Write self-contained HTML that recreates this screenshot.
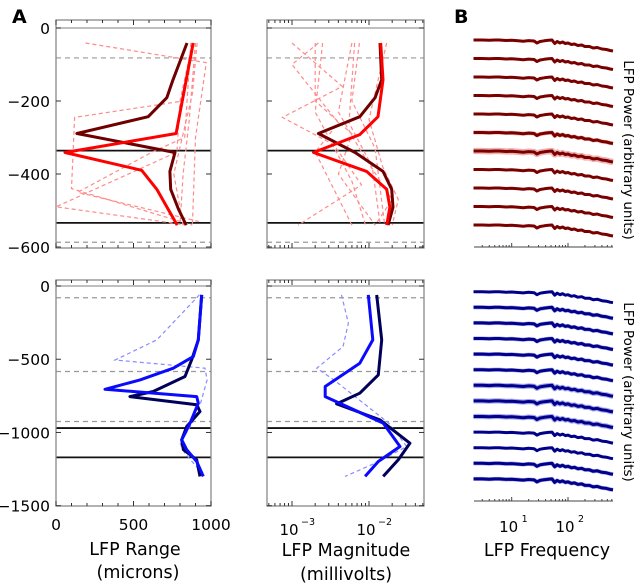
<!DOCTYPE html>
<html><head><meta charset="utf-8"><style>
html,body{margin:0;padding:0;background:#fff;}
svg{display:block;font-family:"DejaVu Sans","Liberation Sans",sans-serif;}
</style></head><body>
<svg id="fig" width="640" height="584" viewBox="0 0 640 584" xmlns="http://www.w3.org/2000/svg">
<text x="12" y="23" font-size="19" font-weight="bold">A</text>
<text x="454" y="23" font-size="19" font-weight="bold">B</text>
<text x="135" y="555" font-size="17.5" text-anchor="middle">LFP Range</text>
<text x="138" y="578" font-size="17.5" text-anchor="middle">(microns)</text>
<text x="346" y="556" font-size="17.5" text-anchor="middle">LFP Magnitude</text>
<text x="346" y="580" font-size="17.5" text-anchor="middle">(millivolts)</text>
<text x="547" y="556" font-size="17.5" text-anchor="middle">LFP Frequency</text>
<text transform="translate(624,150) rotate(90)" font-size="13.5" text-anchor="middle">LFP Power (arbitrary units)</text>
<text transform="translate(624,392) rotate(90)" font-size="13.5" text-anchor="middle">LFP Power (arbitrary units)</text>
</svg>
<script>
// ---------- data ----------
const topDepthTicks = [0, -200, -400, -600];
const botDepthTicks = [0, -500, -1000, -1500];
const rangeTicks = [0, 500, 1000];
const topLinesSolid = [-336, -534];
const topLinesDashed = [-82, -587];
const botLinesSolid = [-970, -1170];
const botLinesDashed = [-80, -584, -925];

const topRangeDark = [[845,-41],[755,-142],[715,-191],[595,-243],[135,-289],[768,-341],[735,-393],[740,-442],[790,-496],[840,-540]];
const topRangeMean = [[885,-41],[775,-289],[58,-341],[553,-390],[650,-442],[782,-540]];
const topRangeDashed = [
  [[190,-41],[970,-95],[900,-300],[880,-540]],
  [[880,-41],[820,-200],[120,-245],[100,-440],[880,-540]],
  [[880,-41],[800,-200],[780,-340],[0,-490],[850,-540]],
  [[870,-41],[830,-300],[620,-340],[140,-450],[920,-530]],
  [[900,-41],[860,-250],[820,-400],[800,-540]],
  [[910,-41],[880,-180],[760,-400],[820,-540]]
];
const topMagDark = [[0.0139,-41],[0.0146,-142],[0.0120,-191],[0.0076,-243],[0.0022,-289],[0.0066,-341],[0.0152,-393],[0.0197,-442],[0.0205,-491],[0.0177,-540]];
const topMagMean = [[0.0142,-41],[0.0152,-142],[0.0131,-243],[0.0076,-292],[0.0019,-341],[0.0093,-393],[0.0170,-442],[0.0187,-491],[0.0170,-540]];
const topMagDashed = [
  [[0.0010,-41],[0.0045,-160],[0.00075,-245],[0.0035,-320],[0.008,-430],[0.0012,-540]],
  [[0.0020,-41],[0.0020,-200],[0.006,-290],[0.004,-400],[0.012,-540]],
  [[0.0022,-41],[0.0010,-100],[0.0040,-260],[0.0020,-340],[0.006,-540]],
  [[0.0025,-41],[0.0020,-230],[0.006,-420],[0.009,-540]],
  [[0.006,-41],[0.004,-230],[0.008,-340],[0.020,-470],[0.012,-540]],
  [[0.0065,-41],[0.0055,-260],[0.011,-380],[0.014,-540]],
  [[0.0075,-41],[0.006,-200],[0.012,-330],[0.016,-540]],
  [[0.017,-41],[0.010,-250],[0.015,-380],[0.024,-470],[0.020,-540]]
];
const botRangeDark = [[940,-61],[918,-368],[875,-505],[832,-618],[627,-720],[477,-755],[908,-811],[929,-857],[843,-959],[811,-1050],[822,-1118],[908,-1186],[929,-1300]];
const botRangeMean = [[940,-61],[918,-368],[886,-482],[757,-561],[542,-641],[316,-705],[908,-755],[918,-800],[865,-936],[811,-1050],[843,-1118],[908,-1198],[950,-1300]];
const botRangeDashed = [[[925,-61],[650,-368],[381,-505],[961,-561],[975,-641],[930,-810],[880,-936],[800,-1073],[830,-1140],[920,-1250]]];
const botMagDark = [[0.0126,-61],[0.0146,-368],[0.0132,-607],[0.0076,-732],[0.0038,-805],[0.0139,-914],[0.0340,-1073],[0.0240,-1186],[0.0153,-1300]];
const botMagMean = [[0.0098,-61],[0.0112,-368],[0.0076,-527],[0.0027,-686],[0.0027,-755],[0.0153,-936],[0.0253,-1096],[0.0132,-1198],[0.0089,-1300]];
const botMagDashed = [[[0.0044,-61],[0.0054,-255],[0.0046,-414],[0.0021,-561],[0.0035,-641],[0.018,-936],[0.031,-1096],[0.012,-1210],[0.0049,-1300]]];

const specFreqs = [2.1,3,4,5,6,8,10,13,16,20,25,28,32,38,45,52,58,64,72,80,90,100,115,130,150,175,200,240,280,330,400,480,560,630];
const specPower = [0,0,-0.3,0,0,-0.5,-0.3,-0.8,-1.2,-0.6,-1,-3,-1.5,-0.8,-0.3,0,-3.5,-1.5,-3,-2,-3.5,-3,-4.5,-4,-5.5,-5,-6.5,-6.5,-8,-7.5,-9,-9.5,-10.5,-11];
const topRowOffsets = [0,1,2,3,4,5,6,7,8,9,10];
const topRowBands = [0,0,0,0,0,0.5,1.5,0,0,0,0];
const botRowOffsets = [0,1,2,3,4,5,6,7,8,9,10,11,12];
const botRowBands = [0,0.5,0.5,0.5,0.5,0.5,1,1,1,0,0,0.5,0.5];
const freqTickLabels = ["1","2"];

// ---------- helpers ----------
const svg = document.getElementById('fig');
const NS = 'http://www.w3.org/2000/svg';
function mk(tag, attrs, parent) {
  const e = document.createElementNS(NS, tag);
  for (const k in attrs) e.setAttribute(k, attrs[k]);
  (parent || svg).appendChild(e);
  return e;
}
function scaleLin(d0, d1, r0, r1) { return v => r0 + (v - d0) / (d1 - d0) * (r1 - r0); }
function scaleLog(d0, d1, r0, r1) { return v => r0 + (Math.log10(v) - Math.log10(d0)) / (Math.log10(d1) - Math.log10(d0)) * (r1 - r0); }
function pathOf(pts, xs, ys) { return pts.map((p, i) => (i ? 'L' : 'M') + xs(p[0]).toFixed(1) + ',' + ys(p[1]).toFixed(1)).join(''); }

function drawPanel(o) {
  const g = mk('g', {});
  
  
  const cp = 'clip-' + o.name;
  const c = mk('clipPath', { id: cp }, g);
  mk('rect', { x: o.x0, y: o.y0, width: o.x1 - o.x0, height: o.y1 - o.y0 }, c);
  const inner = mk('g', { 'clip-path': 'url(#' + cp + ')' }, g);
  mk('line', { x1: o.x0, x2: o.x1, y1: o.ys(0), y2: o.ys(0), stroke: '#999', 'stroke-width': 1.2 }, inner);
  o.dashed.forEach(d => {
    const l = mk('line', { x1: o.x0, x2: o.x1, y1: o.ys(d), y2: o.ys(d), stroke: '#999', 'stroke-width': 1.2, 'stroke-dasharray': '5,4' }, inner);
    
    
  });
  o.solid.forEach(d => {
    const l = mk('line', { x1: o.x0, x2: o.x1, y1: o.ys(d), y2: o.ys(d), stroke: '#111', 'stroke-width': 1.8 }, inner);
    
    
  });
  o.dashSeries.forEach(s => {
    const p = mk('path', { d: pathOf(s, o.xs, o.ys), fill: 'none', stroke: o.light, 'stroke-width': 1.2, 'stroke-dasharray': '4,3' }, inner);
    
    
  });
  const pd = mk('path', { d: pathOf(o.dark, o.xs, o.ys), fill: 'none', stroke: o.darkC, 'stroke-width': 3, 'stroke-linejoin': 'round' }, inner);
  
  
  const pm = mk('path', { d: pathOf(o.mean, o.xs, o.ys), fill: 'none', stroke: o.meanC, 'stroke-width': 3, 'stroke-linejoin': 'round' }, inner);
  
  
  mk('rect', { x: o.x0, y: o.y0, width: o.x1 - o.x0, height: o.y1 - o.y0, fill: 'none', stroke: '#888', 'stroke-width': 1.3 }, g);
  o.xTicks.forEach(t => {
    const x = o.xs(t.v);
    const len = t.major ? 5 : 3;
    mk('line', { x1: x, x2: x, y1: o.y0, y2: o.y0 + len, stroke: '#333', 'stroke-width': 1 }, g);
    mk('line', { x1: x, x2: x, y1: o.y1, y2: o.y1 - len, stroke: '#333', 'stroke-width': 1 }, g);
  });
  o.yTicks.forEach(v => {
    const y = o.ys(v);
    mk('line', { x1: o.x0, x2: o.x0 + 5, y1: y, y2: y, stroke: '#333' }, g);
    mk('line', { x1: o.x1, x2: o.x1 - 5, y1: y, y2: y, stroke: '#333' }, g);
    if (o.yLabels) {
      const t = mk('text', { x: o.x0 - 6, y: y + 6, 'font-size': 15.5, 'text-anchor': 'end' }, g);
      t.textContent = v === 0 ? '0' : '\u2212' + Math.abs(v);
      
      
    }
  });
  if (o.xLabels) o.xLabels(g);
}

const rX = scaleLin(0, 1000, 56, 211);
const rangeTicksMinor = [];
for (let v = 0; v <= 1000; v += 100) rangeTicksMinor.push({ v: v, major: v % 500 === 0 });
const magX = scaleLog(0.001, 0.01, 292, 369);
const magTicks = [];
for (let e = -4; e <= -1; e++) for (let m = 1; m <= 9; m++) {
  const v = m * Math.pow(10, e);
  const x = magX(v);
  if (x >= 267 && x <= 424) magTicks.push({ v: v, major: m === 1 });
}
const topY = scaleLin(0, -600, 28, 247);
const botY = scaleLin(0, -1500, 286, 505.7);

drawPanel({ name: 'top-range-panel', x0: 56, x1: 211, y0: 20, y1: 248, xs: rX, ys: topY, dashed: topLinesDashed, solid: topLinesSolid,
  dashSeries: topRangeDashed, dark: topRangeDark, mean: topRangeMean, light: '#ff8a8a', darkC: '#700000', meanC: '#ff0000',
  xTicks: rangeTicksMinor, yTicks: topDepthTicks, yLabels: true });
drawPanel({ name: 'top-magnitude-panel', x0: 267, x1: 424, y0: 20, y1: 248, xs: magX, ys: topY, dashed: topLinesDashed, solid: topLinesSolid,
  dashSeries: topMagDashed, dark: topMagDark, mean: topMagMean, light: '#ff8a8a', darkC: '#700000', meanC: '#ff0000',
  xTicks: magTicks, yTicks: topDepthTicks, yLabels: false });
drawPanel({ name: 'bottom-range-panel', x0: 56, x1: 211, y0: 280, y1: 506, xs: rX, ys: botY, dashed: botLinesDashed, solid: botLinesSolid,
  dashSeries: botRangeDashed, dark: botRangeDark, mean: botRangeMean, light: '#8a8aff', darkC: '#00005a', meanC: '#0a0aff',
  xTicks: rangeTicksMinor, yTicks: botDepthTicks, yLabels: true,
  xLabels: g => rangeTicks.forEach(v => {
    const t = mk('text', { x: rX(v), y: 530, 'font-size': 15.5, 'text-anchor': 'middle' }, g);
    t.textContent = String(v);
    
    
  }) });
drawPanel({ name: 'bottom-magnitude-panel', x0: 267, x1: 424, y0: 280, y1: 506, xs: magX, ys: botY, dashed: botLinesDashed, solid: botLinesSolid,
  dashSeries: botMagDashed, dark: botMagDark, mean: botMagMean, light: '#8a8aff', darkC: '#00005a', meanC: '#0a0aff',
  xTicks: magTicks, yTicks: botDepthTicks, yLabels: false,
  xLabels: g => [-3, -2].forEach(e => {
    const t = mk('text', { x: magX(Math.pow(10, e)) - 3, y: 535, 'font-size': 15, 'text-anchor': 'middle' }, g);
    t.textContent = '10';
    
    
    const s = mk('text', { x: magX(Math.pow(10, e)) + 16, y: 525, 'font-size': 9.5, 'text-anchor': 'middle' }, g);
    s.textContent = '\u2212' + Math.abs(e);
  }) });

const fX = scaleLog(10, 100, 511.7, 568);
function drawSpectra(name, y0, step, offsets, bands, col, band, axisY) {
  const g = mk('g', {});
  
  
  offsets.forEach((r, i) => {
    const base = y0 + r * step;
    const pts = specFreqs.map((f, k) => [f, specPower[k]]);
    const ys = v => base - v;
    if (bands[i] > 0) {
      const b = mk('path', { d: pathOf(pts, fX, ys), fill: 'none', stroke: band, 'stroke-width': 3 + bands[i] * 2.2, 'stroke-linejoin': 'round' }, g);
      
      
    }
    const p = mk('path', { d: pathOf(pts, fX, ys), fill: 'none', stroke: col, 'stroke-width': 3, 'stroke-linejoin': 'round' }, g);
    
    
  });
  mk('line', { x1: 474, x2: 613, y1: axisY, y2: axisY, stroke: '#444', 'stroke-width': 1 }, g);
  for (let e = 0; e <= 2; e++) for (let m = 1; m <= 9; m++) {
    const f = m * Math.pow(10, e);
    const x = fX(f);
    if (x < 474 || x > 613) continue;
    mk('line', { x1: x, x2: x, y1: axisY, y2: axisY - (m === 1 ? 4 : 2), stroke: '#444' }, g);
  }
}
drawSpectra('top-spectra', 40, 18.5, topRowOffsets, topRowBands, '#7a0000', '#f0b0b0', 247);
drawSpectra('bottom-spectra', 291.7, 15.6, botRowOffsets, botRowBands, '#00008a', '#a8a8f0', 501);
freqTickLabels.forEach(e => {
  const x = fX(Math.pow(10, +e));
  const t = mk('text', { x: x - 3, y: 532, 'font-size': 15, 'text-anchor': 'middle' });
  t.textContent = '10';
  
  
  const s = mk('text', { x: x + 13, y: 522, 'font-size': 9.5, 'text-anchor': 'middle' });
  s.textContent = e;
});
</script>
</body></html>
